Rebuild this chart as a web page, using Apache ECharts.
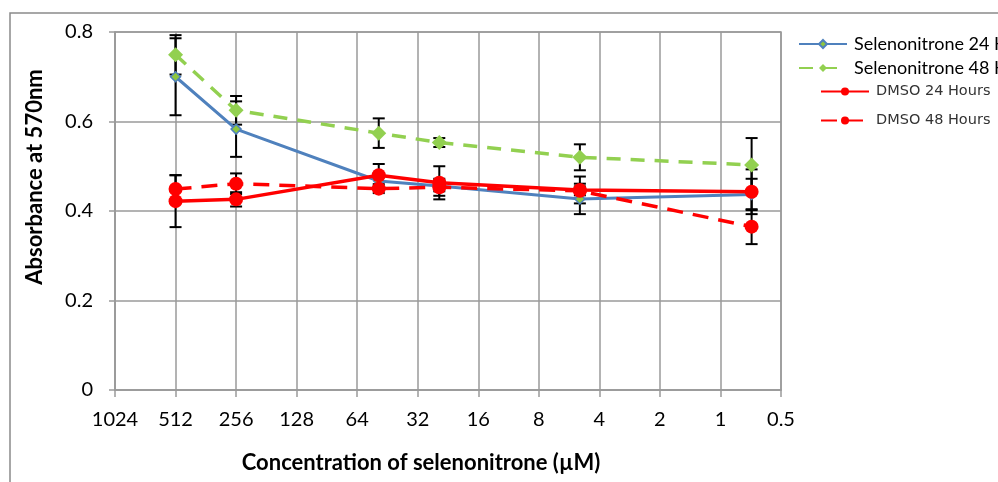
<!DOCTYPE html>
<html>
<head>
<meta charset="utf-8">
<script src="https://cdn.jsdelivr.net/npm/echarts@6/dist/echarts.min.js"></script>
<style>html,body{margin:0;padding:0;background:#fff;}#c{width:998px;height:482px;}</style>
</head>
<body>
<div id="c"></div>
<script>
const concentrations = [512, 256, 50, 25, 5, 0.7];
const sel24 = [0.700, 0.583, 0.467, 0.456, 0.427, 0.437];
const sel24Err = [0.086, 0.062, 0.015, 0.012, 0.034, 0.035];
const sel48 = [0.749, 0.625, 0.574, 0.553, 0.520, 0.503];
const sel48Err = [0.044, 0.032, 0.033, 0.010, 0.029, 0.060];
const dmso24 = [0.422, 0.426, 0.480, 0.463, 0.447, 0.443];
const dmso24Err = [0.058, 0.016, 0.025, 0.037, 0.030, 0.050];
const dmso48 = [0.449, 0.461, 0.450, 0.453, 0.445, 0.365];
const dmso48Err = [0.031, 0.023, 0.010, 0.019, 0.010, 0.039];
const seriesNames = ['Selenonitrone 24 Hours', 'Selenonitrone 48 Hours', 'DMSO 24 Hours', 'DMSO 48 Hours'];
const xTickLabels = [1024, 512, 256, 128, 64, 32, 16, 8, 4, 2, 1, 0.5];
const yTickLabels = [0, 0.2, 0.4, 0.6, 0.8];
const xTitle = 'Concentration of selenonitrone (µM)';
const yTitle = 'Absorbance at 570nm';

const chart = echarts.init(document.getElementById('c'));
const pts = (vals) => concentrations.map((c, i) => [c, vals[i]]);
const errData = (vals, errs) => concentrations.map((c, i) => [c, vals[i] - errs[i], vals[i] + errs[i]]);

function errSeries(vals, errs) {
  return {
    type: 'custom', z: 1, silent: true,
    data: errData(vals, errs),
    renderItem: function (params, api) {
      const lo = api.coord([api.value(0), api.value(1)]);
      const hi = api.coord([api.value(0), api.value(2)]);
      const w = 6;
      const st = { stroke: '#000', lineWidth: 2 };
      return { type: 'group', children: [
        { type: 'line', shape: { x1: lo[0], y1: lo[1], x2: hi[0], y2: hi[1] }, style: st },
        { type: 'line', shape: { x1: lo[0] - w, y1: lo[1], x2: lo[0] + w, y2: lo[1] }, style: st },
        { type: 'line', shape: { x1: hi[0] - w, y1: hi[1], x2: hi[0] + w, y2: hi[1] }, style: st }
      ]};
    }
  };
}

const FONT = 'Lato';
const gray = '#9a9a9a';

function legendFor(name, left, top, size, color, family) {
  return {
    data: [name], left: left, top: top, orient: 'vertical', padding: 0,
    itemWidth: 48, itemHeight: 10, itemGap: 0,
    textStyle: { fontSize: size, color: color, fontFamily: family, padding: [0, 0, 0, 2] }
  };
}

chart.setOption({
  animation: false,
  graphic: [
    { type: 'rect', z: -10, shape: { x: 10, y: 13, width: 1000, height: 500 },
      style: { fill: 'none', stroke: '#8a8a8a', lineWidth: 1.5 } },
    { type: 'text', x: 35, y: 177, rotation: Math.PI / 2,
      style: { text: yTitle, font: 'bold 22px Lato', fill: '#000', align: 'center', verticalAlign: 'middle' } },
    { type: 'text', x: 421, y: 463,
      style: { text: xTitle, font: 'bold 22px Lato', fill: '#000', align: 'center', verticalAlign: 'middle' } }
  ],
  grid: { left: 115, top: 32, right: 217, bottom: 92, show: true, borderColor: gray, borderWidth: 1.5 },
  legend: [
    legendFor(seriesNames[0], 798, 35, 18, '#000', FONT),
    legendFor(seriesNames[1], 798, 59, 18, '#000', FONT),
    legendFor(seriesNames[2], 820, 84, 14.5, '#333', 'DejaVu Sans'),
    legendFor(seriesNames[3], 820, 113, 14.5, '#333', 'DejaVu Sans')
  ],
  xAxis: {
    type: 'log', logBase: 2, min: 0.5, max: 1024, inverse: true, interval: 1, splitNumber: 11,
    axisLine: { lineStyle: { color: gray, width: 1.5 } },
    axisTick: { show: true, length: 7, lineStyle: { color: gray, width: 1.5 } },
    splitLine: { show: true, lineStyle: { color: gray, width: 1.5 } },
    axisLabel: { fontFamily: FONT, fontSize: 20, color: '#000', margin: 20,
      formatter: v => { const r = +(+v).toPrecision(6); return xTickLabels.indexOf(r) >= 0 ? String(r) : ''; } }
  },
  yAxis: {
    type: 'value', min: yTickLabels[0], max: yTickLabels[yTickLabels.length - 1], interval: 0.2,
    axisLine: { show: true, lineStyle: { color: gray, width: 1.5 } },
    axisTick: { show: true, length: 6, lineStyle: { color: gray, width: 1.5 } },
    splitLine: { show: true, lineStyle: { color: gray, width: 1.5 } },
    axisLabel: { fontFamily: FONT, fontSize: 20, color: '#000', margin: 22 }
  },
  series: [
    errSeries(sel24, sel24Err), errSeries(sel48, sel48Err),
    errSeries(dmso24, dmso24Err), errSeries(dmso48, dmso48Err),
    { name: seriesNames[0], type: 'line', z: 3, data: pts(sel24), symbol: 'diamond', symbolSize: 10,
      lineStyle: { color: '#4F81BD', width: 3 },
      itemStyle: { color: '#8DC63F', borderColor: '#4F81BD', borderWidth: 1.5 } },
    { name: seriesNames[1], type: 'line', z: 3, data: pts(sel48), symbol: 'diamond', symbolSize: 15,
      lineStyle: { color: '#92D050', width: 3.5, type: [14, 10] },
      itemStyle: { color: '#92D050' } },
    { name: seriesNames[2], type: 'line', z: 4, data: pts(dmso24), symbol: 'circle', symbolSize: 14,
      lineStyle: { color: '#FF0000', width: 3.5 },
      itemStyle: { color: '#FF0000' } },
    { name: seriesNames[3], type: 'line', z: 4, data: pts(dmso48), symbol: 'circle', symbolSize: 14,
      lineStyle: { color: '#FF0000', width: 3.5, type: [16, 10] },
      itemStyle: { color: '#FF0000' } }
  ]
});
</script>
</body>
</html>
